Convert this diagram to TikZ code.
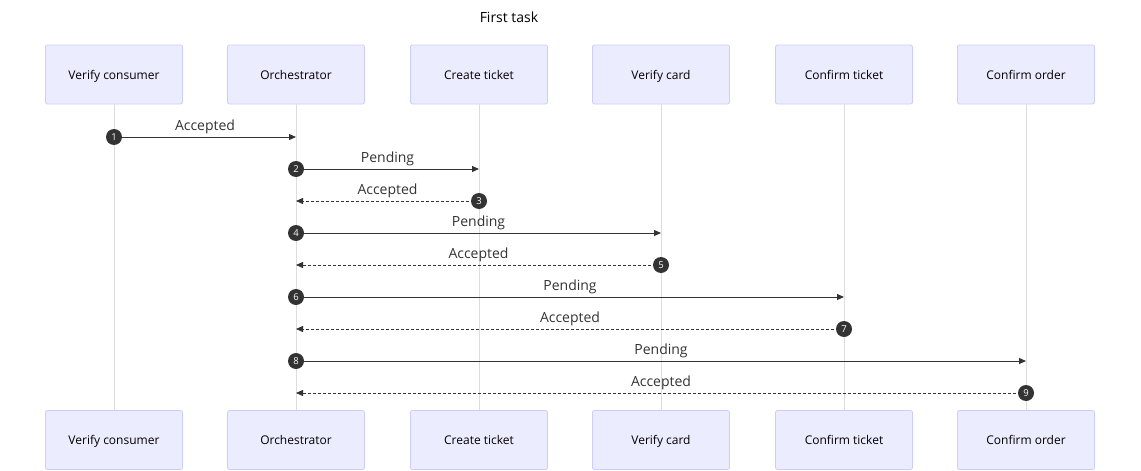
\documentclass[tikz,border=0pt]{standalone}
\usepackage{fontspec}
\setmainfont{Open Sans}
\usetikzlibrary{arrows.meta}
\definecolor{actfill}{HTML}{ECECFF}
\definecolor{actdraw}{HTML}{CCCCFF}
\definecolor{lifec}{HTML}{DDDDDD}
\definecolor{msgc}{HTML}{333333}
\tikzset{
  actor/.style={draw=actdraw, fill=actfill, rounded corners=2pt, minimum width=137pt, minimum height=59pt, inner sep=0pt, text height=11pt, text depth=2pt, font=\fontsize{12}{14}\selectfont, line width=0.8pt},
  lifeline/.style={draw=lifec, line width=0.8pt},
  msg/.style={draw=msgc, line width=1pt, -{Triangle[length=7pt,width=6pt]}},
  ret/.style={msg, dash pattern=on 3pt off 2pt},
  num/.style={circle, fill=msgc, text=white, inner sep=0pt, minimum size=16pt, font=\fontsize{9.5}{10}\selectfont},
  lbl/.style={font=\fontsize{14}{16}\selectfont, text=msgc, inner sep=0pt, anchor=base}
}
\begin{document}
\begin{tikzpicture}[x=1pt,y=-1pt]
\useasboundingbox (0,0) rectangle (1141,471);
\node[font=\fontsize{14}{16}\selectfont, anchor=base] (title) at (509,23) {First task};
\foreach \n/\x/\t in {a/114/Verify consumer, b/296/Orchestrator, c/479/Create ticket, d/661/Verify card, e/844/Confirm ticket, f/1026/Confirm order}{
  \node[actor] (\n t) at (\x,74.5) {\t};
  \node[actor] (\n b) at (\x,440) {\t};
  \draw[lifeline] (\n t.south) -- (\n b.north);
}
% messages
\foreach \i/\s/\e/\y/\st/\t in {1/a/b/137/msg/Accepted, 2/b/c/169/msg/Pending, 3/c/b/201/ret/Accepted, 4/b/d/233/msg/Pending, 5/d/b/265/ret/Accepted, 6/b/e/297/msg/Pending, 7/e/b/329/ret/Accepted, 8/b/f/361/msg/Pending, 9/f/b/393/ret/Accepted}{
  \coordinate (s\i) at (\s t.south |- 0,\y);
  \coordinate (e\i) at (\e t.south |- 0,\y);
  \draw[\st] (s\i) -- (e\i) node[lbl, midway, yshift=7pt] {\t};
  \node[num] (n\i) at (s\i) {\i};
}
\end{tikzpicture}
\end{document}
